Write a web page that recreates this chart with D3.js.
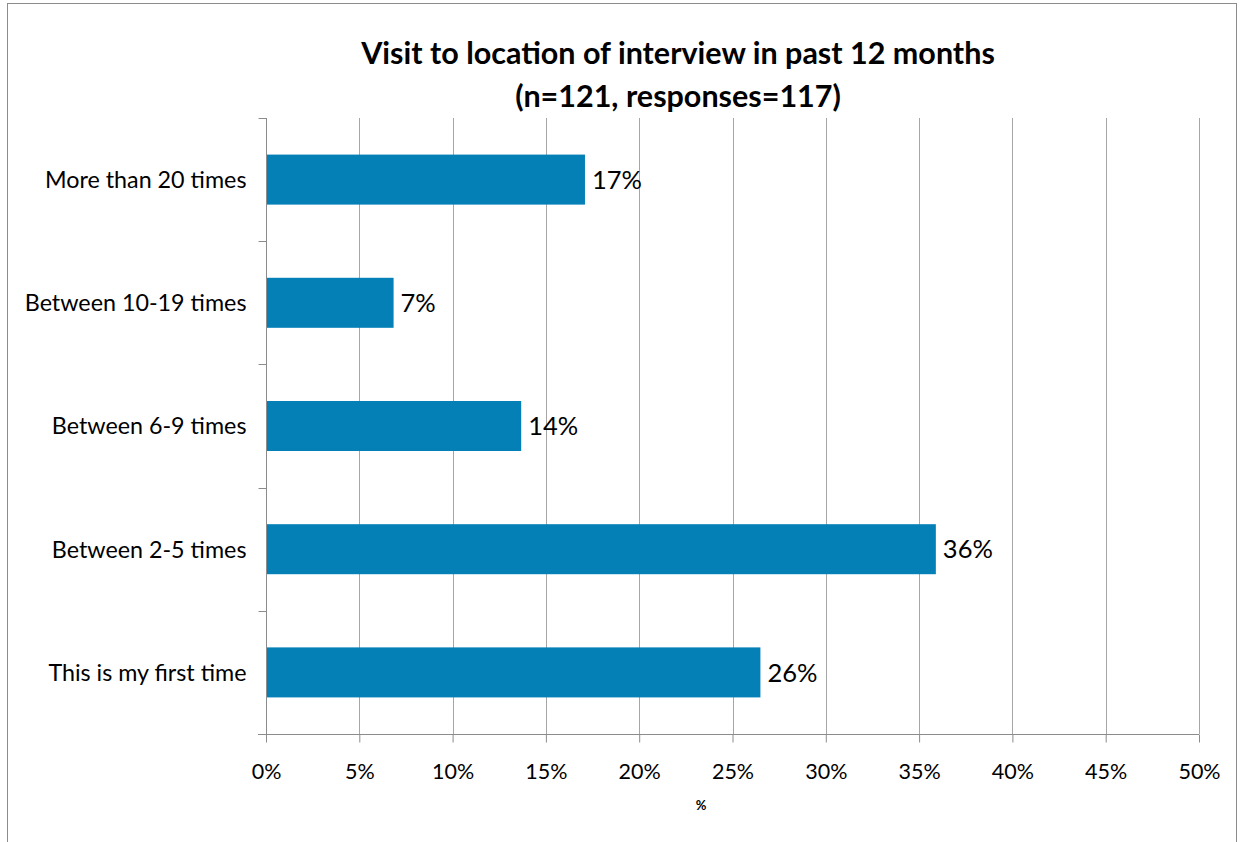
<!DOCTYPE html>
<html>
<head>
<meta charset="utf-8">
<script src="https://cdn.jsdelivr.net/npm/d3@7"></script>
<style>
  html, body { margin: 0; padding: 0; background: #fff; }
  svg { display: block; }
  text { font-family: Lato, "Open Sans", sans-serif; fill: #000; }
</style>
</head>
<body>
<div id="chart"></div>
<script>
// Survey answers, top to bottom as drawn
const categories = [
  "More than 20 times",
  "Between 10-19 times",
  "Between 6-9 times",
  "Between 2-5 times",
  "This is my first time"
];
// Number of respondents choosing each answer
const counts = [20, 8, 16, 42, 31];
const responses = 117;
const xTicks = [0, 0.05, 0.10, 0.15, 0.20, 0.25, 0.30, 0.35, 0.40, 0.45, 0.50];
const titleLines = [
  "Visit to location of interview in past 12 months",
  "(n=121, responses=117)"
];
const axisTitle = "%";

const W = 1247, H = 842;
const plot = { left: 266, right: 1199, top: 118, bottom: 734 };

const svg = d3.select("#chart").append("svg")
  .attr("width", W).attr("height", H);

// outer frame
svg.append("rect")
  .attr("x", 7.5).attr("y", 3.5)
  .attr("width", 1229).attr("height", H + 10)
  .attr("fill", "#fff").attr("stroke", "#8c8c8c").attr("stroke-width", 1);

const x = d3.scaleLinear().domain([0, 0.5]).range([plot.left, plot.right]);
const y = d3.scaleBand().domain(categories)
  .range([plot.top, plot.bottom])
  .paddingInner(0.594).paddingOuter(0.297);

const data = categories.map((c, i) => ({ cat: c, share: counts[i] / responses }));

// vertical gridlines
svg.append("g").selectAll("line")
  .data(xTicks.slice(1))
  .join("line")
  .attr("x1", d => Math.round(x(d)) + 0.5).attr("x2", d => Math.round(x(d)) + 0.5)
  .attr("y1", plot.top).attr("y2", plot.bottom)
  .attr("stroke", "#a6a6a6").attr("stroke-width", 1);

// bars
svg.append("g").selectAll("rect")
  .data(data)
  .join("rect")
  .attr("x", x(0))
  .attr("y", d => y(d.cat))
  .attr("width", d => x(d.share) - x(0))
  .attr("height", y.bandwidth())
  .attr("fill", "#0580b7");

// value labels
const pct = d3.format(".0%");
svg.append("g").selectAll("text")
  .data(data)
  .join("text")
  .attr("x", d => x(d.share) + 7)
  .attr("y", d => y(d.cat) + y.bandwidth() / 2)
  .attr("dy", "0.36em")
  .style("font-size", "25.5px")
  .text(d => pct(d.share));

// x axis
const xAxis = svg.append("g")
  .attr("transform", `translate(0,${plot.bottom + 0.5})`)
  .call(d3.axisBottom(x).tickValues(xTicks).tickFormat(pct).tickSize(8).tickPadding(21));
xAxis.select(".domain").attr("stroke", "#8c8c8c").attr("d", `M${plot.left - 8},0H${plot.right}`);
xAxis.selectAll(".tick line").attr("stroke", "#8c8c8c");
xAxis.selectAll(".tick text").style("font-size", "21.5px").style("font-family", "Lato, sans-serif");

// y axis: ticks on category boundaries
const yAxisG = svg.append("g").attr("transform", `translate(${plot.left + 0.5},0)`);
yAxisG.append("line")
  .attr("x1", 0).attr("x2", 0).attr("y1", plot.top).attr("y2", plot.bottom)
  .attr("stroke", "#8c8c8c");
const bounds = d3.range(categories.length + 1).map(i => plot.top + i * (plot.bottom - plot.top) / categories.length);
yAxisG.selectAll("line.tk")
  .data(bounds)
  .join("line").attr("class", "tk")
  .attr("x1", -8).attr("x2", 0)
  .attr("y1", d => Math.round(d) + 0.5).attr("y2", d => Math.round(d) + 0.5)
  .attr("stroke", "#8c8c8c");
yAxisG.selectAll("text")
  .data(categories)
  .join("text")
  .attr("x", -20)
  .attr("y", d => y(d) + y.bandwidth() / 2)
  .attr("dy", "0.36em")
  .attr("text-anchor", "end")
  .style("font-size", "23.3px")
  .text(d => d);

// title
svg.append("g").selectAll("text")
  .data(titleLines)
  .join("text")
  .attr("x", 678)
  .attr("y", (d, i) => 64 + i * 43)
  .attr("text-anchor", "middle")
  .style("font-size", "30.5px")
  .style("font-weight", "bold")
  .text(d => d);

// axis title
svg.append("text")
  .attr("x", 701).attr("y", 810)
  .attr("text-anchor", "middle")
  .style("font-size", "13px").style("font-weight", "bold")
  .text(axisTitle);
</script>
</body>
</html>
